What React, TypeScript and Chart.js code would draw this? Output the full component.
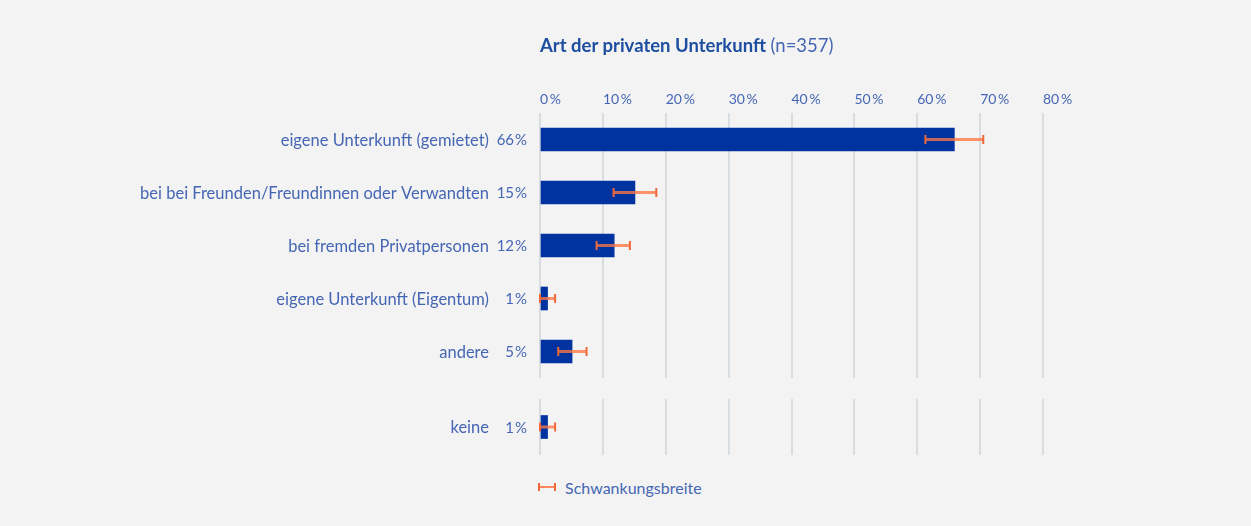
import React, { useEffect, useRef } from "react";
import { Chart, registerables } from "chart.js";

Chart.register(...registerables);

// ---- data ----
const categories = [
  "eigene Unterkunft (gemietet)",
  "bei bei Freunden/Freundinnen oder Verwandten",
  "bei fremden Privatpersonen",
  "eigene Unterkunft (Eigentum)",
  "andere",
];
const values = [65.9, 15.1, 11.8, 1.2, 5.1];
const errLow = [61.3, 11.7, 9.0, 0, 2.9];
const errHigh = [70.5, 18.5, 14.3, 2.4, 7.4];
const valueLabels = ["66", "15", "12", "1", "5"];

const noneCategories = ["keine"];
const noneValues = [1.2];
const noneErrLow = [0];
const noneErrHigh = [2.4];
const noneValueLabels = ["1"];

const xTickValues = [0, 10, 20, 30, 40, 50, 60, 70, 80];

const FONT = "Lato, 'Open Sans', sans-serif";
const TEXT = "#4566b4";
const TITLE = "#1d4ea0";
const BAR = "#0033a0";
const GRID = "#d8dde2";
const BG = "#f3f3f3";

function makeOverlay(
  cats: string[],
  lo: number[],
  hi: number[],
  labels: string[],
  showTicks: boolean
) {
  return {
    id: "overlay",
    afterDatasetsDraw(chart: any) {
      const ctx = chart.ctx as CanvasRenderingContext2D;
      const xs = chart.scales.x;
      const ys = chart.scales.y;
      ctx.save();
      cats.forEach((c, i) => {
        const yc = ys.getPixelForValue(i);
        const x1 = xs.getPixelForValue(lo[i]);
        const x2 = xs.getPixelForValue(hi[i]);
        ctx.strokeStyle = "rgba(255,118,66,0.78)";
        ctx.lineWidth = 3;
        ctx.beginPath();
        ctx.moveTo(x1, yc);
        ctx.lineTo(x2, yc);
        ctx.stroke();
        ctx.strokeStyle = "#f0683a";
        ctx.lineWidth = 2;
        ctx.beginPath();
        ctx.moveTo(x1, yc - 4.5);
        ctx.lineTo(x1, yc + 4.5);
        ctx.moveTo(x2, yc - 4.5);
        ctx.lineTo(x2, yc + 4.5);
        ctx.stroke();

        ctx.fillStyle = TEXT;
        ctx.textBaseline = "middle";
        ctx.textAlign = "right";
        ctx.font = `16.5px ${FONT}`;
        ctx.fillText(c, 489, yc + 1);
        ctx.font = `15px ${FONT}`;
        ctx.fillText(labels[i] + "\u200A%", 527, yc + 1);
      });
      if (showTicks) {
        ctx.fillStyle = TEXT;
        ctx.font = `14px ${FONT}`;
        ctx.textAlign = "left";
        ctx.textBaseline = "middle";
        xTickValues.forEach((v) => {
          ctx.fillText(v + "\u2009%", xs.getPixelForValue(v), 99);
        });
      }
      ctx.restore();
    },
  };
}

function buildChart(
  canvas: HTMLCanvasElement,
  cats: string[],
  vals: number[],
  lo: number[],
  hi: number[],
  labels: string[],
  showTicks: boolean,
  padding: { top: number; bottom: number; left: number; right: number }
) {
  return new Chart(canvas, {
    type: "bar",
    data: {
      labels: cats,
      datasets: [
        {
          data: vals,
          backgroundColor: BAR,
          barThickness: 23,
          borderWidth: 0,
        },
      ],
    },
    options: {
      indexAxis: "y",
      responsive: false,
      animation: false,
      layout: { padding },
      plugins: {
        legend: { display: false },
        tooltip: { enabled: false },
        title: { display: false },
      },
      scales: {
        x: {
          type: "linear",
          position: "top",
          min: 0,
          max: 80,
          ticks: { display: false, stepSize: 10 },
          grid: { color: GRID, lineWidth: 2, drawTicks: false },
          border: { display: false },
        },
        y: {
          type: "category",
          display: false,
        },
      },
    } as any,
    plugins: [makeOverlay(cats, lo, hi, labels, showTicks)],
  });
}

export default function App() {
  const c1 = useRef<HTMLCanvasElement>(null);
  const c2 = useRef<HTMLCanvasElement>(null);

  useEffect(() => {
    document.body.style.margin = "0";
    document.body.style.background = BG;
    const ch1 = buildChart(
      c1.current!,
      categories,
      values,
      errLow,
      errHigh,
      valueLabels,
      true,
      { top: 113, bottom: 12, left: 540, right: 208 }
    );
    const ch2 = buildChart(
      c2.current!,
      noneCategories,
      noneValues,
      noneErrLow,
      noneErrHigh,
      noneValueLabels,
      false,
      { top: 9, bottom: 15, left: 540, right: 208 }
    );
    return () => {
      ch1.destroy();
      ch2.destroy();
    };
  }, []);

  return (
    <div
      style={{
        position: "relative",
        width: 1251,
        height: 526,
        background: BG,
        fontFamily: FONT,
        overflow: "hidden",
      }}
    >
      <canvas
        ref={c1}
        width={1251}
        height={390}
        style={{ position: "absolute", left: 0, top: 0 }}
      />
      <canvas
        ref={c2}
        width={1251}
        height={80}
        style={{ position: "absolute", left: 0, top: 390 }}
      />
      <div
        style={{
          position: "absolute",
          left: 540,
          top: 33,
          fontSize: 18.5,
          lineHeight: "24px",
          color: TITLE,
          fontWeight: 700,
          whiteSpace: "nowrap",
        }}
      >
        Art der privaten Unterkunft{" "}
        <span style={{ fontWeight: 400, color: TEXT }}>(n=357)</span>
      </div>
      <div
        style={{
          position: "absolute",
          left: 537,
          top: 476,
          height: 22,
          display: "flex",
          alignItems: "center",
          whiteSpace: "nowrap",
        }}
      >
        <svg width={20} height={10} style={{ display: "block" }}>
          <line x1={2} y1={5} x2={18} y2={5} stroke="rgba(255,118,66,0.85)" strokeWidth={2} />
          <line x1={2} y1={1} x2={2} y2={9} stroke="#f0683a" strokeWidth={2} />
          <line x1={18} y1={1} x2={18} y2={9} stroke="#f0683a" strokeWidth={2} />
        </svg>
        <span style={{ marginLeft: 8, fontSize: 16, color: TEXT }}>
          Schwankungsbreite
        </span>
      </div>
    </div>
  );
}
